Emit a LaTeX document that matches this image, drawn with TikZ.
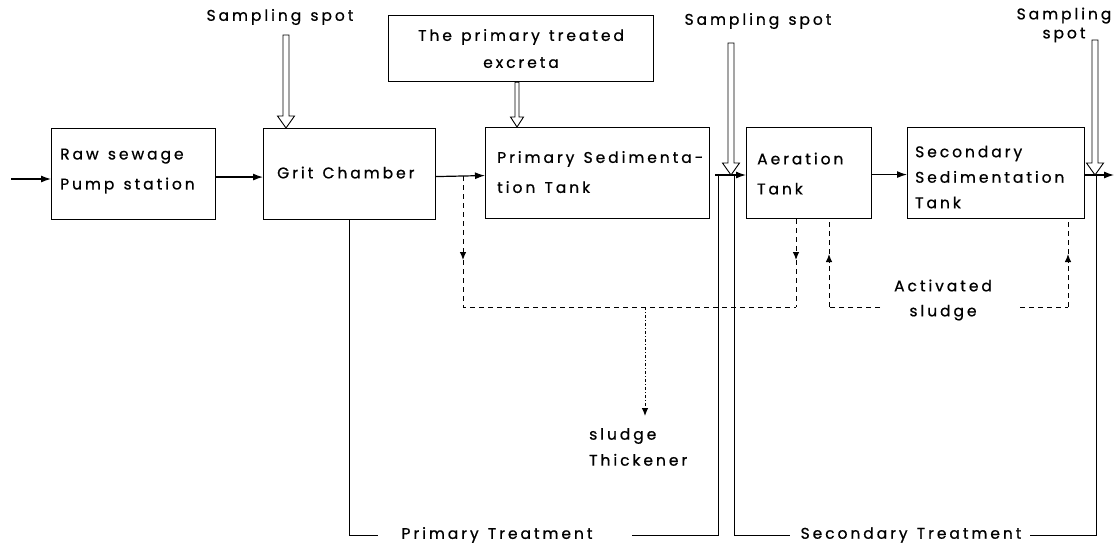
\documentclass[tikz,border=0pt]{standalone}
\usepackage{fontspec}
\newfontfamily\lblfont{Poppins}[LetterSpace=19, FakeBold=0.8, WordSpace=1.3]
\newcommand\lf[1]{\lblfont\fontsize{15.5}{#1}\selectfont}
\usetikzlibrary{arrows.meta,calc}
\newcommand\hollowarrow[5]{%
  \draw[line width=0.9pt, fill=white] let \p1=(#1), \p2=(#2) in
    (\x1-#3,\y1) -- (\x1-#3,\y2+#5) -- (\x1-#4,\y2+#5) -- (\x1,\y2)
    -- (\x1+#4,\y2+#5) -- (\x1+#3,\y2+#5) -- (\x1+#3,\y1) -- cycle;}
\begin{document}
\begin{tikzpicture}[x=1pt,y=-1pt,
  box/.style={draw, line width=1.1pt, anchor=north west, minimum height=91pt, inner sep=0pt},
  lbl/.style={font=\lf{30}, inner sep=0pt, align=left},
  flow/.style={line width=1.2pt, -{Latex[length=10pt,width=7pt]}},
  plain/.style={line width=1pt},
  dsh/.style={line width=1pt, dash pattern=on 5pt off 4pt},
  dshd/.style={line width=1pt, dash pattern=on 3pt off 2pt on 1pt off 2pt},
  dtip/.style={-{Latex[length=8pt,width=6.5pt]}}
]
\useasboundingbox (0,0) rectangle (1115,550);

% boxes
\node[box, minimum width=164pt] (raw) at (51,128) {};
\node[box, minimum width=172pt] (grit) at (263,128) {};
\node[box, minimum width=224pt] (prim) at (485,127) {};
\node[box, minimum width=125pt] (aer) at (746,127) {};
\node[box, minimum width=177pt] (sec) at (907,127) {};
\node[box, minimum width=265pt, minimum height=66pt] (exc) at (388,15) {};

% box texts
\node[lbl, anchor=west] (rawt) at ([xshift=9pt,yshift=3pt]raw.west) {Raw sewage\\Pump station};
\node[lbl, anchor=west] (gritt) at ([xshift=14pt,yshift=1.5pt]grit.west) {Grit Chamber};
\node[lbl, anchor=west] (primt) at ([xshift=12pt,yshift=1pt]prim.west) {Primary Sedimenta-\\tion Tank};
\node[lbl, anchor=west] (aert) at ([xshift=11pt,yshift=-0.5pt]aer.west) {Aeration\\Tank};
\node[lbl, anchor=west, font=\lf{25.5}] (sect) at ([xshift=8pt,yshift=-4pt]sec.west) {Secondary\\Sedimentation\\Tank};
\node[lbl, align=center, font=\lf{27}] (exct) at (exc.center) {The primary treated\\excreta};

% other labels
\node[lbl] (ss1) at (280,17) {Sampling spot};
\node[lbl] (ss2) at (758,21) {Sampling spot};
\node[lbl, align=center, font=\lf{19}] (ss3) at (1064,25) {Sampling\\spot};
\node[lbl, anchor=west, font=\lf{26}] (thk) at (589,447) {sludge\\Thickener};
\node[lbl, align=center, font=\lf{25}] (act) at (943,300) {Activated\\sludge};
\node[lbl] (ptr) at (497,535) {Primary Treatment};
\node[lbl] (str) at (911,535) {Secondary Treatment};

% coordinates
\coordinate (in) at (11,179);
\coordinate (j1) at (463,176);
\coordinate (a1) at (463,260);
\coordinate (d1) at (463,307);
\coordinate (d2) at (796,307);
\coordinate (a2) at (796,260);
\coordinate (p1) at (715,175);
\coordinate (out) at (1114,175);
\coordinate (t0) at (645,307);
\coordinate (t1) at (645,416);
\coordinate (r1) at (829,307);
\coordinate (r2) at (880,307);
\coordinate (r3) at (1020,307);
\coordinate (r4) at (1068,307);
\coordinate (a3) at (829,254);
\coordinate (a4) at (1068,254);
\coordinate (b1) at (378,535);
\coordinate (b2) at (632,535);
\coordinate (b3) at (718,535);
\coordinate (b4) at (734,535);
\coordinate (b5) at (790,535);
\coordinate (b6) at (1030,535);
\coordinate (b7) at (1096,535);
\coordinate (s1) at (286,35);
\coordinate (s2) at (731,43);
\coordinate (s3) at (1095,40);
\coordinate (e1) at (517,0);

% main flow
\draw[flow] (in) -- (in -| raw.west);
\draw[flow] ([yshift=-3pt]raw.east) -- ([yshift=-3pt]grit.west);
\draw[flow] ([yshift=-2.5pt]grit.east) -- ([yshift=-2.5pt]prim.west);
\draw[flow] (p1) -- (p1 -| aer.west);
\draw[flow] ([yshift=-1.5pt]aer.east) -- ([yshift=-1.5pt]sec.west);
\draw[flow] (out -| sec.east) -- (out);

% sludge lines
\draw[dsh, dtip] (j1) -- (a1);
\draw[dsh] (a1) -- (d1) -- (d2);
\draw[dsh, dtip] (aer.south -| d2) -- (a2);
\draw[dsh] (a2) -- (d2);
\draw[dshd, dtip] (t0) -- (t1);
\draw[dsh] (r2) -- (r1);
\draw[dsh, dtip] (r1) -- (a3);
\draw[dsh] (a3) -- (a3 |- aer.south);
\draw[dsh] (r3) -- (r4);
\draw[dsh, dtip] (r4) -- (a4);
\draw[dsh] (a4) -- (a4 |- sec.south);

% treatment brackets
\draw[plain] (grit.south) -- (grit.south |- b1) -- (b1);
\draw[plain] (b2) -- (b3) -- (b3 |- p1);
\draw[plain] (b4 |- p1) -- (b4) -- (b5);
\draw[plain] (b6) -- (b7) -- (b7 |- out);

% sampling arrows
\hollowarrow{s1}{s1 |- grit.north}{3pt}{8.5pt}{12pt}
\hollowarrow{s2}{s2 |- p1}{3pt}{8.5pt}{12pt}
\hollowarrow{s3}{s3 |- out}{3pt}{8.5pt}{12pt}
\hollowarrow{exc.south -| e1}{prim.north -| e1}{2pt}{6.5pt}{10pt}
\end{tikzpicture}
\end{document}
